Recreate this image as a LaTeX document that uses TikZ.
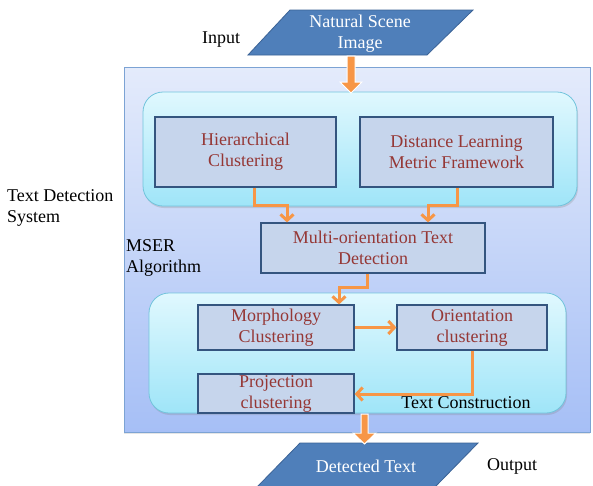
\documentclass[tikz,border=0pt]{standalone}
\usepackage{fontspec}
\setmainfont{Liberation Serif}
\usetikzlibrary{arrows.meta,shadows}
\definecolor{boxfill}{HTML}{C6D5EC}
\definecolor{boxline}{HTML}{34557F}
\definecolor{boxtext}{HTML}{953735}
\definecolor{flow}{HTML}{F79646}
\definecolor{iofill}{HTML}{4F7FBA}
\definecolor{ioline}{HTML}{3B6396}
\definecolor{frametop}{HTML}{E4EBFB}
\definecolor{framebot}{HTML}{A6BFF6}
\definecolor{frameline}{HTML}{7CA3D4}
\definecolor{paneltop}{HTML}{E0F8FE}
\definecolor{panelbot}{HTML}{9FE5F8}
\definecolor{panelline}{HTML}{72C4DC}
\tikzset{
  stage/.style={draw=boxline, line width=1.2pt, fill=boxfill, text=boxtext,
    inner sep=0pt, align=center, font=\fontsize{18}{21}\selectfont},
  plain/.style={inner sep=0pt, align=left, font=\fontsize{18}{21}\selectfont},
  iotext/.style={inner sep=0pt, align=center, text=white, font=\fontsize{18}{21}\selectfont},
  panel/.style={draw=panelline, line width=0.8pt, rounded corners=20pt,
    top color=paneltop, bottom color=panelbot,
    drop shadow={opacity=0.25, shadow xshift=1pt, shadow yshift=-2pt}},
  flowline/.style={draw=flow, line width=3pt, -{Straight Barb[length=6pt,width=13pt]}},
  bigarrow/.style={fill=flow, draw=white, line width=1pt}
}
\begin{document}
\begin{tikzpicture}[x=1pt,y=-1pt]
\useasboundingbox (0,0) rectangle (593,485);
\fill[white] (0,0) rectangle (593,485);

% system frame
\path[draw=frameline, line width=0.8pt, top color=frametop, bottom color=framebot,
  drop shadow={opacity=0.2, shadow xshift=0pt, shadow yshift=-2pt}]
  (124,67) rectangle (590,432);

% grouping panels
\path[panel] (143,92) rectangle (577,206);
\path[panel] (149,293) rectangle (566,413);

% input and output parallelograms
\draw[fill=iofill, draw=ioline, line width=0.8pt] (248,55) -- (290,10) -- (473,10) -- (427,55) -- cycle;
\node[iotext] (src) at (360,34) {Natural Scene\\Image};
\draw[fill=iofill, draw=ioline, line width=0.8pt] (257,487) -- (300,443) -- (478,443) -- (435,487) -- cycle;
\node[iotext] (dst) at (366,466) {Detected Text};

% processing stages
\node[stage, minimum width=181pt, minimum height=70pt] (hier) at (245.5,152) {Hierarchical\\Clustering};
\node[stage, minimum width=193pt, minimum height=70pt] (dist) at (456.5,152) {Distance Learning\\Metric Framework};
\node[stage, minimum width=224pt, minimum height=50pt] (multi) at (373,248) {Multi-orientation Text\\Detection};
\node[stage, minimum width=156pt, minimum height=45pt] (morph) at (276,327.5) {Morphology\\Clustering};
\node[stage, minimum width=150pt, minimum height=45pt] (orient) at (472,327.5) {Orientation\\clustering};
\node[stage, minimum width=156pt, minimum height=39pt] (proj) at (276,393.5) {Projection\\clustering};

% labels
\node[plain, anchor=center] (inlbl) at (221,40) {Input};
\node[plain, anchor=center] (outlbl) at (512,466) {Output};
\node[plain, anchor=west] (syslbl) at (7,207.5) {Text Detection\\System};
\node[plain, anchor=west] (mserlbl) at (126,257.5) {MSER\\Algorithm};
\node[plain, anchor=center] (tclbl) at (466,403) {Text Construction};

% block arrows in and out of the system
\path[bigarrow] (347,56) -- (355,56) -- (355,82) -- (362,82) -- (351,93)
  -- (340,82) -- (347,82) -- cycle;
\path[bigarrow] (361,414) -- (368,414) -- (368,433) -- (376,433) -- (364.5,444)
  -- (353,433) -- (361,433) -- cycle;

% flow between stages
\draw[flowline] ([xshift=9pt]hier.south) -- ++(0,18) -| ([xshift=-86pt]multi.north);
\draw[flowline] ([xshift=0.5pt]dist.south) -- ++(0,18) -| ([xshift=55pt]multi.north);
\draw[flowline] ([xshift=-6pt]multi.south) -- ++(0,14) -| ([xshift=63pt]morph.north);
\draw[flowline] (morph.east) -- (orient.west);
\draw[flowline] (orient.south) |- ([yshift=-0.5pt]proj.east);
\end{tikzpicture}
\end{document}
